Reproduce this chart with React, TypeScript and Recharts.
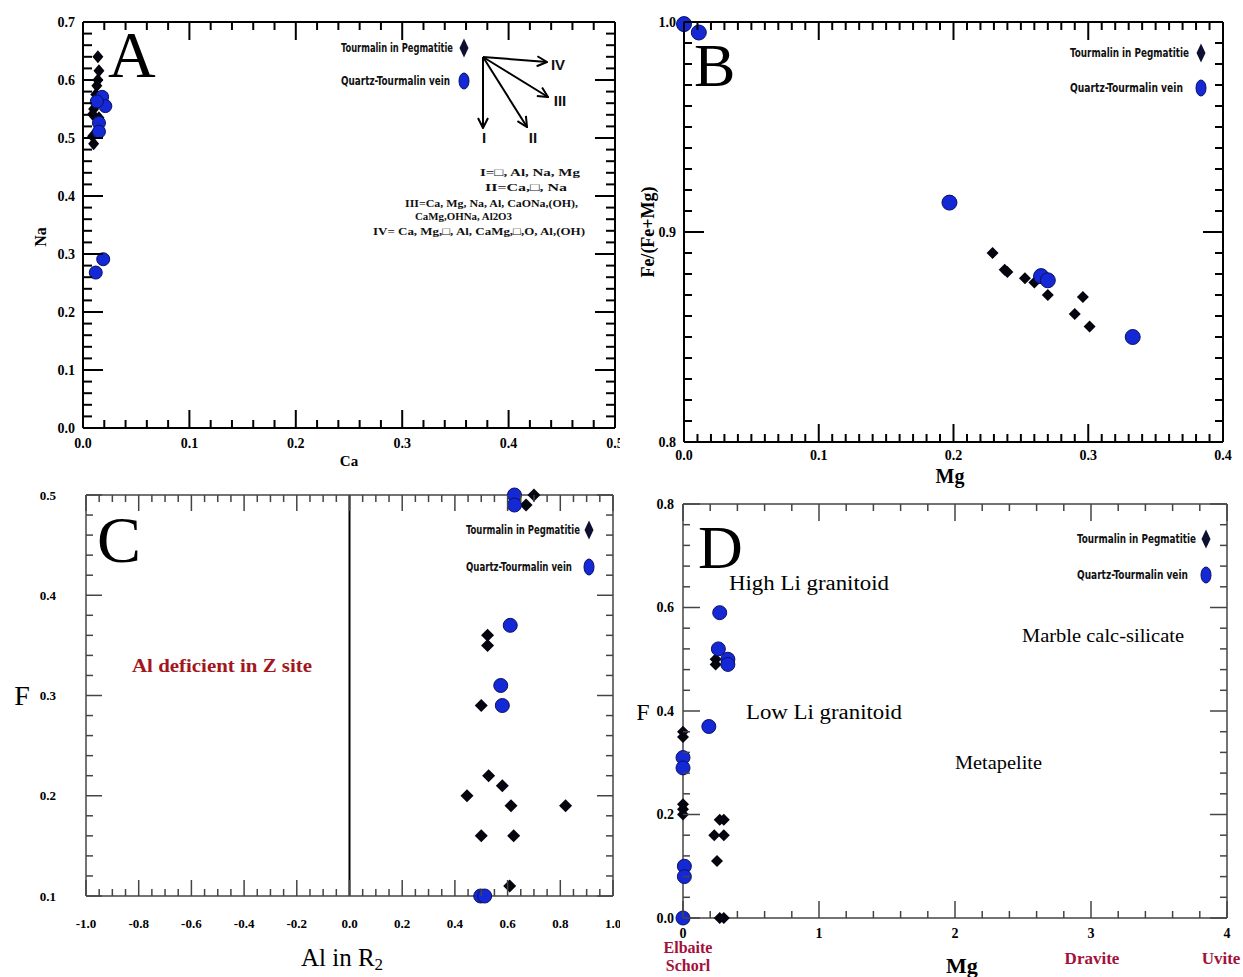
import React from "react";
import { ScatterChart, Scatter, XAxis, YAxis, ReferenceLine } from "recharts";

// ---- data ----
// A: Ca vs Na
const A_PEG = [[0.014, 0.64], [0.015, 0.616], [0.014, 0.6], [0.013, 0.59], [0.012, 0.575], [0.01, 0.55], [0.009, 0.541], [0.015, 0.535], [0.009, 0.503], [0.01, 0.49]];
const A_VEIN = [[0.018, 0.571], [0.021, 0.555], [0.013, 0.563], [0.015, 0.526], [0.015, 0.511], [0.019, 0.291], [0.012, 0.268]];
// B: Mg vs Fe/(Fe+Mg)
const B_PEG = [[0.229, 0.89], [0.238, 0.882], [0.24, 0.881], [0.253, 0.878], [0.26, 0.876], [0.27, 0.87], [0.296, 0.869], [0.29, 0.861], [0.301, 0.855]];
const B_VEIN = [[0.0, 0.999], [0.011, 0.995], [0.197, 0.914], [0.265, 0.879], [0.27, 0.877], [0.333, 0.85]];
// C: Al in R2 vs F
const C_PEG = [[0.7, 0.5], [0.67, 0.49], [0.524, 0.36], [0.524, 0.35], [0.5, 0.29], [0.528, 0.22], [0.58, 0.21], [0.446, 0.2], [0.613, 0.19], [0.82, 0.19], [0.5, 0.16], [0.623, 0.16], [0.608, 0.11]];
const C_VEIN = [[0.626, 0.5], [0.626, 0.49], [0.61, 0.37], [0.574, 0.31], [0.58, 0.29], [0.498, 0.1], [0.513, 0.1]];
// D: Mg vs F
const D_PEG = [[0.24, 0.5], [0.24, 0.49], [0, 0.36], [0, 0.35], [0, 0.22], [0, 0.21], [0, 0.2], [0.27, 0.19], [0.3, 0.19], [0.23, 0.16], [0.3, 0.16], [0.25, 0.11], [0.27, 0], [0.3, 0]];
const D_VEIN = [[0.27, 0.59], [0.26, 0.52], [0.33, 0.5], [0.33, 0.49], [0.19, 0.37], [0, 0.31], [0, 0.29], [0.01, 0.1], [0.01, 0.08], [0, 0]];

// labelled (major) ticks
const A_X_MAJOR = [0, 0.1, 0.2, 0.3, 0.4, 0.5];
const A_Y_MAJOR = [0, 0.1, 0.2, 0.3, 0.4, 0.5, 0.6, 0.7];
const B_X_MAJOR = [0, 0.1, 0.2, 0.3, 0.4];
const B_Y_MAJOR = [0.8, 0.9, 1.0];
const C_X_MAJOR = [-1, -0.8, -0.6, -0.4, -0.2, 0, 0.2, 0.4, 0.6, 0.8, 1];
const C_Y_MAJOR = [0.1, 0.2, 0.3, 0.4, 0.5];
const D_X_MAJOR = [0, 1, 2, 3, 4];
const D_Y_MAJOR = [0, 0.2, 0.4, 0.6, 0.8];

const SERIF = '"Liberation Serif", "Times New Roman", serif';
const NARROW = '"Liberation Sans Narrow", "DejaVu Sans Condensed", "Liberation Sans", sans-serif';
const SANS = '"Liberation Sans", Arial, sans-serif';
const BLUE = "#1428d6";
const BLUE_EDGE = "#0b1160";
const CRIMSON = "#a3103a";

const range = (a: number, b: number, s: number) => {
  const out: number[] = [];
  const n = Math.round((b - a) / s);
  for (let i = 0; i <= n; i++) out.push(+(a + i * s).toFixed(4));
  return out;
};
const toPts = (arr: number[][]) => arr.map(([x, y]) => ({ x, y }));

type TickCfg = { majorLen: number; minorLen: number; color: string; sw: number; fs: number; off: number };

function tickRenderer(side: string, majors: number[], fmt: ((v: number) => string) | null, c: TickCfg) {
  return (p: any) => {
    const v = Number(p.payload.value);
    const isMajor = majors.some((m) => Math.abs(m - v) < 1e-6);
    const len = isMajor ? c.majorLen : c.minorLen;
    const x = Number(p.x);
    const y = Number(p.y);
    const st = { stroke: c.color, strokeWidth: c.sw };
    const showLabel = isMajor && fmt;
    const tp = { fontFamily: SERIF, fontWeight: 700, fontSize: c.fs, fill: "#000" };
    if (side === "bottom")
      return (
        <g>
          <line x1={x} y1={y} x2={x} y2={y - len} {...st} />
          {showLabel ? <text x={x} y={y + c.off} dy="0.35em" textAnchor="middle" style={tp}>{fmt!(v)}</text> : null}
        </g>
      );
    if (side === "top") return <line x1={x} y1={y} x2={x} y2={y + len} {...st} />;
    if (side === "left")
      return (
        <g>
          <line x1={x} y1={y} x2={x + len} y2={y} {...st} />
          {showLabel ? <text x={x - c.off} y={y} dy="0.35em" textAnchor="end" style={tp}>{fmt!(v)}</text> : null}
        </g>
      );
    return <line x1={x} y1={y} x2={x - len} y2={y} {...st} />;
  };
}

const diamondShape = (w: number, h: number) => (p: any) => (
  <polygon
    points={`${p.cx},${p.cy - h / 2} ${p.cx + w / 2},${p.cy} ${p.cx},${p.cy + h / 2} ${p.cx - w / 2},${p.cy}`}
    fill="#050510"
  />
);
const circleShape = (rx: number, ry: number) => (p: any) => (
  <ellipse cx={p.cx} cy={p.cy} rx={rx} ry={ry} fill={BLUE} stroke={BLUE_EDGE} strokeWidth={1} />
);

type PanelProps = {
  left: number; top: number; w: number; h: number;
  margin: { top: number; right: number; bottom: number; left: number };
  yW: number; xH: number;
  xDom: number[]; yDom: number[]; xStep: number; yStep: number;
  xMaj: number[]; yMaj: number[];
  xFmt: (v: number) => string; yFmt: (v: number) => string;
  cx: TickCfg; cy: TickCfg;
  peg: number[][]; vein: number[][];
  dw: number; dh: number; rx: number; ry: number;
  zeroLine?: boolean;
};

// the diamonds use the bottom/left axes, the circles the top/right twins (same domain and range),
// so all four frame sides get their inward ticks from the library
function Panel(P: PanelProps) {
  const xT = range(P.xDom[0], P.xDom[1], P.xStep);
  const yT = range(P.yDom[0], P.yDom[1], P.yStep);
  const axisLine = { stroke: P.cx.color, strokeWidth: P.cx.sw };
  return (
    <div style={{ position: "absolute", left: P.left, top: P.top, width: P.w, height: P.h }}>
      <ScatterChart width={P.w} height={P.h} margin={P.margin}>
        <XAxis xAxisId="b" type="number" dataKey="x" orientation="bottom" domain={P.xDom} ticks={xT} interval={0}
          height={P.xH} tickSize={0} tickMargin={0} tickLine={false} axisLine={axisLine}
          tick={tickRenderer("bottom", P.xMaj, P.xFmt, P.cx)} />
        <XAxis xAxisId="t" type="number" dataKey="x" orientation="top" domain={P.xDom} ticks={xT} interval={0}
          height={1} tickSize={0} tickMargin={0} tickLine={false} axisLine={axisLine}
          tick={tickRenderer("top", P.xMaj, null, P.cx)} />
        <YAxis yAxisId="l" type="number" dataKey="y" orientation="left" domain={P.yDom} ticks={yT} interval={0}
          width={P.yW} tickSize={0} tickMargin={0} tickLine={false} axisLine={axisLine}
          tick={tickRenderer("left", P.yMaj, P.yFmt, P.cy)} />
        <YAxis yAxisId="r" type="number" dataKey="y" orientation="right" domain={P.yDom} ticks={yT} interval={0}
          width={1} tickSize={0} tickMargin={0} tickLine={false} axisLine={axisLine}
          tick={tickRenderer("right", P.yMaj, null, P.cy)} />
        {P.zeroLine ? <ReferenceLine xAxisId="b" yAxisId="l" x={0} stroke="#000" strokeWidth={2} /> : null}
        <Scatter xAxisId="b" yAxisId="l" data={toPts(P.peg)} shape={diamondShape(P.dw, P.dh)} isAnimationActive={false} />
        <Scatter xAxisId="t" yAxisId="r" data={toPts(P.vein)} shape={circleShape(P.rx, P.ry)} isAnimationActive={false} />
      </ScatterChart>
    </div>
  );
}

function LegendItems({ x, y1, y2, w1, w2, mx }: { x: number; y1: number; y2: number; w1: number; w2: number; mx: number }) {
  const tp = { fontFamily: NARROW, fontWeight: 700, fontSize: 12, fill: "#111" };
  return (
    <g>
      <text x={x} y={y1} dy="0.35em" textLength={w1} lengthAdjust="spacingAndGlyphs" {...tp}>Tourmalin in Pegmatitie</text>
      <polygon points={`${mx},${y1 - 9.5} ${mx + 4.5},${y1} ${mx},${y1 + 9.5} ${mx - 4.5},${y1}`} fill="#0d1030" />
      <text x={x} y={y2} dy="0.35em" textLength={w2} lengthAdjust="spacingAndGlyphs" {...tp}>Quartz-Tourmalin vein</text>
      <ellipse cx={mx} cy={y2} rx={5} ry={8} fill={BLUE} stroke={BLUE_EDGE} strokeWidth={1} />
    </g>
  );
}

const f1 = (v: number) => v.toFixed(1);
const fInt = (v: number) => String(Math.round(v));

export default function App() {
  const tA: TickCfg = { majorLen: 18, minorLen: 8, color: "#000", sw: 2, fs: 14, off: 15 };
  const tAy: TickCfg = { ...tA, majorLen: 20, minorLen: 9, off: 8 };
  const tB: TickCfg = { majorLen: 18, minorLen: 8, color: "#000", sw: 2, fs: 14, off: 13 };
  const tBy: TickCfg = { ...tB, majorLen: 20, off: 8 };
  const tC: TickCfg = { majorLen: 16, minorLen: 7, color: "#444", sw: 1.5, fs: 13, off: 27 };
  const tCy: TickCfg = { ...tC, off: 30 };
  const tD: TickCfg = { majorLen: 17, minorLen: 7, color: "#444", sw: 1.5, fs: 14, off: 15 };
  const tDy: TickCfg = { ...tD, off: 9 };

  const ann = { fontFamily: SERIF, fontWeight: 700, fontSize: 11, fill: "#111" };
  const roman = { fontFamily: SANS, fontWeight: 700, fontSize: 15, fill: "#111", textAnchor: "middle" as const };

  return (
    <div style={{ position: "absolute", left: 0, top: 0, width: 1243, height: 977, background: "#fff", overflow: "hidden" }}>
      <Panel left={0} top={0} w={620} h={480} margin={{ top: 21, right: 4, bottom: 0, left: 0 }} yW={83} xH={52}
        xDom={[0, 0.5]} yDom={[0, 0.7]} xStep={0.02} yStep={0.02} xMaj={A_X_MAJOR} yMaj={A_Y_MAJOR}
        xFmt={f1} yFmt={f1} cx={tA} cy={tAy} peg={A_PEG} vein={A_VEIN} dw={11} dh={13} rx={6.5} ry={6.5} />
      <Panel left={620} top={0} w={623} h={480} margin={{ top: 21, right: 19, bottom: 0, left: 0 }} yW={64} xH={38}
        xDom={[0, 0.4]} yDom={[0.8, 1.0]} xStep={0.01} yStep={0.01} xMaj={B_X_MAJOR} yMaj={B_Y_MAJOR}
        xFmt={f1} yFmt={f1} cx={tB} cy={tBy} peg={B_PEG} vein={B_VEIN} dw={12} dh={12} rx={7.5} ry={7.5} />
      <Panel left={0} top={480} w={620} h={497} margin={{ top: 14, right: 6, bottom: 0, left: 0 }} yW={86} xH={81}
        xDom={[-1, 1]} yDom={[0.1, 0.5]} xStep={0.05} yStep={0.02} xMaj={C_X_MAJOR} yMaj={C_Y_MAJOR}
        xFmt={f1} yFmt={f1} cx={tC} cy={tCy} peg={C_PEG} vein={C_VEIN} dw={13} dh={13} rx={7} ry={7} zeroLine />
      <Panel left={620} top={480} w={623} h={497} margin={{ top: 23, right: 15, bottom: 0, left: 0 }} yW={63} xH={59}
        xDom={[0, 4]} yDom={[0, 0.8]} xStep={0.2} yStep={0.04} xMaj={D_X_MAJOR} yMaj={D_Y_MAJOR}
        xFmt={fInt} yFmt={f1} cx={tD} cy={tDy} peg={D_PEG} vein={D_VEIN} dw={12} dh={12} rx={7} ry={7} />

      <svg width={1243} height={977} style={{ position: "absolute", left: 0, top: 0, pointerEvents: "none" }}>
        <defs>
          <marker id="ah" viewBox="0 0 12 12" refX="11" refY="6" markerWidth="12" markerHeight="12" markerUnits="userSpaceOnUse" orient="auto">
            <path d="M1,1 L11,6 L1,11" fill="none" stroke="#000" strokeWidth={2} />
          </marker>
        </defs>

        {/* panel A */}
        <text x={108} y={77} fontFamily={SERIF} fontSize={66} fill="#000">A</text>
        <text x={40} y={237} transform="rotate(-90 40 237)" textAnchor="middle" dy="0.35em" fontFamily={SERIF} fontWeight={700} fontSize={16}>Na</text>
        <text x={349} y={461} textAnchor="middle" dy="0.35em" fontFamily={SERIF} fontWeight={700} fontSize={15}>Ca</text>
        <LegendItems x={341} y1={48} y2={81} w1={112} w2={109} mx={464} />
        <g stroke="#000" strokeWidth={2} markerEnd="url(#ah)">
          <line x1={483} y1={57} x2={547} y2={62} />
          <line x1={483} y1={57} x2={548} y2={97} />
          <line x1={483} y1={57} x2={527} y2={127} />
          <line x1={483} y1={57} x2={483} y2={128} />
        </g>
        <text x={558} y={65} dy="0.35em" {...roman}>IV</text>
        <text x={560} y={101} dy="0.35em" {...roman}>III</text>
        <text x={533} y={138} dy="0.35em" {...roman}>II</text>
        <text x={484} y={138} dy="0.35em" {...roman}>I</text>
        <text x={480} y={172} dy="0.35em" textLength={100} lengthAdjust="spacingAndGlyphs" {...ann}>I=□, Al, Na, Mg</text>
        <text x={485} y={187} dy="0.35em" textLength={82} lengthAdjust="spacingAndGlyphs" {...ann}>II=Ca,□, Na</text>
        <text x={405} y={203} dy="0.35em" textLength={173} lengthAdjust="spacingAndGlyphs" {...ann}>III=Ca, Mg, Na, Al, CaONa,(OH),</text>
        <text x={415} y={216} dy="0.35em" textLength={97} lengthAdjust="spacingAndGlyphs" {...ann}>CaMg,OHNa, Al2O3</text>
        <text x={373} y={231} dy="0.35em" textLength={212} lengthAdjust="spacingAndGlyphs" {...ann}>IV= Ca, Mg,□, Al, CaMg,□,O, Al,(OH)</text>

        {/* panel B */}
        <text x={694} y={86} fontFamily={SERIF} fontSize={62} fill="#000">B</text>
        <text x={648} y={232} transform="rotate(-90 648 232)" textAnchor="middle" dy="0.35em" fontFamily={SERIF} fontWeight={700} fontSize={18}>Fe/(Fe+Mg)</text>
        <text x={950} y={476} textAnchor="middle" dy="0.35em" fontFamily={SERIF} fontWeight={700} fontSize={20}>Mg</text>
        <LegendItems x={1070} y1={53} y2={88} w1={119} w2={113} mx={1201} />

        {/* panel C */}
        <text x={97} y={562} fontFamily={SERIF} fontSize={66} fill="#000">C</text>
        <text x={22} y={695} textAnchor="middle" dy="0.35em" fontFamily={SERIF} fontSize={28}>F</text>
        <text x={342} y={966} textAnchor="middle" fontFamily={SERIF} fontSize={25}>
          Al in R<tspan dy={4} fontSize={17}>2</tspan>
        </text>
        <text x={132} y={665} dy="0.35em" textLength={180} lengthAdjust="spacingAndGlyphs" fontFamily={SERIF} fontWeight={700} fontSize={19} fill="#a3161c">Al deficient in Z site</text>
        <LegendItems x={466} y1={530} y2={567} w1={114} w2={106} mx={589} />

        {/* panel D */}
        <text x={698} y={568} fontFamily={SERIF} fontSize={62} fill="#000">D</text>
        <text x={643} y={712} textAnchor="middle" dy="0.35em" fontFamily={SERIF} fontSize={24}>F</text>
        <text x={962} y={965} textAnchor="middle" dy="0.35em" fontFamily={SERIF} fontWeight={700} fontSize={22}>Mg</text>
        <text x={688} y={947} textAnchor="middle" dy="0.35em" fontFamily={SERIF} fontWeight={700} fontSize={16} fill={CRIMSON}>Elbaite</text>
        <text x={688} y={965} textAnchor="middle" dy="0.35em" fontFamily={SERIF} fontWeight={700} fontSize={16} fill={CRIMSON}>Schorl</text>
        <text x={1092} y={958} textAnchor="middle" dy="0.35em" fontFamily={SERIF} fontWeight={700} fontSize={17} fill={CRIMSON}>Dravite</text>
        <text x={1221} y={958} textAnchor="middle" dy="0.35em" fontFamily={SERIF} fontWeight={700} fontSize={17} fill={CRIMSON}>Uvite</text>
        <text x={729} y={583} dy="0.35em" textLength={160} lengthAdjust="spacingAndGlyphs" fontFamily={SERIF} fontSize={20}>High Li granitoid</text>
        <text x={746} y={712} dy="0.35em" textLength={156} lengthAdjust="spacingAndGlyphs" fontFamily={SERIF} fontSize={20}>Low Li granitoid</text>
        <text x={1022} y={636} dy="0.35em" textLength={162} lengthAdjust="spacingAndGlyphs" fontFamily={SERIF} fontSize={18}>Marble calc-silicate</text>
        <text x={955} y={763} dy="0.35em" textLength={87} lengthAdjust="spacingAndGlyphs" fontFamily={SERIF} fontSize={18}>Metapelite</text>
        <LegendItems x={1077} y1={539} y2={575} w1={119} w2={111} mx={1206} />
      </svg>
    </div>
  );
}
